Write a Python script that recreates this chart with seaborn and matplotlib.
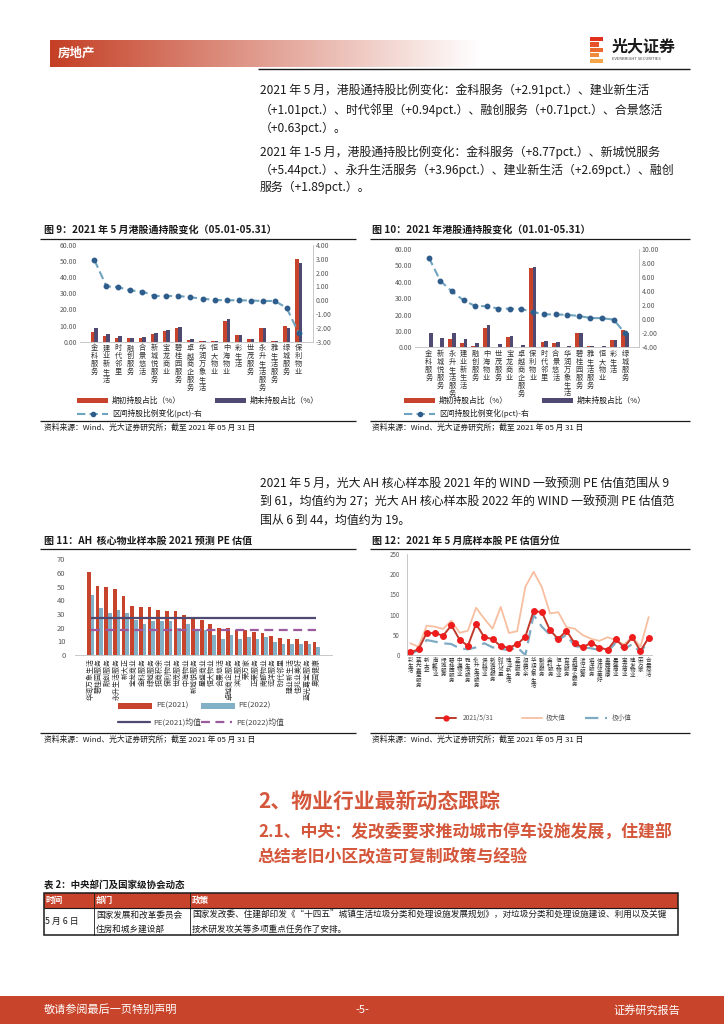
import matplotlib
matplotlib.use('Agg')
import matplotlib.pyplot as plt
import seaborn as sns
import numpy as np
import pandas as pd
from matplotlib.patches import Rectangle
from matplotlib.lines import Line2D

sns.set_theme(style='white')
plt.rcParams['font.family'] = ['Noto Sans CJK SC', 'DejaVu Sans']
plt.rcParams['axes.unicode_minus'] = False

RED = '#C8432B'
NAVY = '#4F4A72'
LBLUE = '#82B0C6'
LINE = '#6FA3BF'
DOT = '#2E5D8C'
GREY = '#595959'
HEAD = '#D4573B'

# ---- data: 图9 (05.01-05.31)
cats9 = ['金科服务', '建业新生活', '时代邻里', '融创服务', '合景悠活', '新城悦服务', '宝龙商业',
         '碧桂园服务', '卓越商企服务', '华润万象生活', '恒大物业', '中海物业', '彩生活', '世茂服务',
         '永升生活服务', '雅生活服务', '绿城服务', '保利物业']
start9 = [6.0, 3.5, 2.5, 2.0, 2.5, 5.0, 6.5, 8.5, 1.0, 0.2, 0.2, 13.0, 4.3, 1.5, 8.5, 0.5, 9.5, 51.5]
end9 = [8.5, 4.5, 3.5, 2.5, 3.2, 5.3, 7.0, 9.0, 1.5, 0.3, 0.3, 13.8, 4.3, 1.5, 8.5, 0.5, 8.6, 49.0]
chg9 = [2.91, 1.01, 0.94, 0.71, 0.63, 0.31, 0.31, 0.31, 0.21, 0.12, 0.02, 0.0, 0.0, -0.02,
        -0.05, -0.05, -0.54, -2.35]

# ---- data: 图10 (01.01-05.31)
cats10 = ['金科服务', '新城悦服务', '永升生活服务', '建业新生活', '融创服务', '中海物业', '世茂服务',
          '宝龙商业', '卓越商企服务', '保利物业', '时代邻里', '合景悠活', '华润万象生活', '碧桂园服务',
          '雅生活服务', '恒大物业', '彩生活', '绿城服务']
start10 = [0.0, 0.0, 5.0, 2.5, 0.7, 11.5, 0.0, 6.0, 0.0, 48.5, 3.0, 2.5, 0.0, 8.5, 0.8, 0.0, 4.3, 10.8]
end10 = [9.0, 5.5, 9.0, 5.0, 2.5, 13.8, 2.0, 7.0, 1.5, 49.2, 3.8, 3.2, 0.8, 9.0, 0.8, 0.5, 4.3, 8.8]
chg10 = [8.77, 5.44, 3.96, 2.69, 1.89, 1.85, 1.52, 1.50, 1.46, 1.03, 0.70, 0.68, 0.62, 0.46,
         0.17, 0.15, -0.06, -2.0]

# ---- data: 图11 (PE)
cats11 = ['华润万象生活', '碧桂园服务', '融创服务', '永升生活服务', '新大正', '宝龙商业', '金科服务',
          '绿城服务', '招商积余', '保利物业', '世茂服务', '中海物业', '新城悦服务', '星盛商业',
          '恒大物业', '合景悠活', '卓越商企服务', '滨江服务', '荣万家', '正荣服务', '南都物业',
          '远洋服务', '时代邻里', '建业新生活', '佳兆业美好', '蓝光嘉宝服务', '奥园健康']
pe21 = [61, 50.4, 49.6, 48.2, 43.3, 35.8, 35.0, 35.0, 33.0, 32.0, 32.0, 29.2, 26.8, 25.8, 22.6,
        20.0, 19.7, 18.5, 18.0, 16.5, 15.8, 14.1, 12.7, 11.4, 11.4, 10.2, 9.2]
pe22 = [44, 34.5, 31.0, 32.8, 30.6, 25.8, 22.6, 25.0, 24.6, 24.8, 20.0, 22.6, 18.3, 18.5, 14.8,
        12.0, 14.3, 12.0, 13.4, 12.0, 13.4, 9.7, 8.3, 8.3, 7.8, 8.3, 6.1]
pe21_mean = 26.8
pe22_mean = 18.5

# ---- data: 图12 (PE 分位)
cats12 = ['彩生活', '蓝光嘉宝服务', '新大正', '南都物业', '绿城服务', '碧桂园服务', '中海物业',
          '雅生活服务', '永升生活服务', '保利物业', '新城悦服务', '时代邻里', '建业新生活', '正荣服务',
          '招商积余', '华润万象生活', '融创服务', '金科服务', '恒大物业', '世茂服务', '卓越商企服务',
          '滨江服务', '远洋服务', '佳兆业美好', '奥园健康', '星盛商业', '宝龙商业', '建发物业',
          '荣万家', '合景悠活']
now12 = [6.6, 14, 55, 53.7, 48, 73.5, 38, 22.5, 77, 43.8, 39.7, 21.5, 18.2, 26.4, 45.5, 109, 106,
         61, 39.7, 60, 29, 19, 30.6, 18.2, 13.2, 38.8, 19, 43.8, 10, 43]
max12 = [29, 20.7, 72.7, 70, 64.5, 85, 55, 60, 117, 90, 65, 119, 54.5, 59, 169, 206, 168, 103,
         106, 69, 65, 49, 40, 35, 44, 37, 26, 45, 21, 94]
min12 = [2, 12.4, 37, 33, 29, 27, 16.5, 14, 19, 29, 19, 15, 12.4, 19, 0, 99, 70, 50, 37, 50, 22,
         19, 16.5, 12.4, 8, 30.6, 14, 27, 6, 37]

W, H = 724, 1024
fig = plt.figure(figsize=(7.24, 10.24), dpi=100)
page = fig.add_axes([0, 0, 1, 1])
page.set_xlim(0, W)
page.set_ylim(H, 0)
page.axis('off')


# pixel box -> figure rect
def box(x0, y0, x1, y1):
    return [x0 / W, 1 - y1 / H, (x1 - x0) / W, (y1 - y0) / H]


def txt(x, y, s, size=9, **kw):
    kw.setdefault('va', 'center')
    kw.setdefault('color', '#1a1a1a')
    page.text(x, y, s, fontsize=size, **kw)


def hline(x0, x1, y, lw=0.8, color='#1a1a1a'):
    page.plot([x0, x1], [y, y], color=color, lw=lw, solid_capstyle='butt')


def style_ticks(ax, size=5):
    ax.tick_params(axis='both', length=0, pad=2, labelsize=size, colors=GREY)
    ax.set_xlabel('')
    ax.set_ylabel('')


# ---- page header
grad = np.ones((1, 256, 4))
c0 = np.array(matplotlib.colors.to_rgb('#C43F25'))
t = np.linspace(0, 1, 256)
grad[0, :, :3] = c0[None, :] * (1 - t[:, None]) + t[:, None] * 1.0
page.imshow(grad, extent=(50, 480, 67, 40), aspect='auto', zorder=1)
page.set_xlim(0, W)
page.set_ylim(H, 0)
txt(58, 53, '房地产', 9, color='white', fontweight='bold', zorder=2)
for i, (w, c) in enumerate(zip([13, 9, 13, 9, 13], ['#E0301E', '#E8502A', '#EC6A2E', '#F08A3A', '#F5A64A'])):
    page.add_patch(Rectangle((590, 37 + i * 5.4), w, 4.2, color=c, lw=0))
txt(612, 46, '光大证券', 11.5, fontweight='bold')
txt(612, 58.5, 'EVERBRIGHT SECURITIES', 3, color='#444444')
hline(258, 690, 68.5, lw=1.0)

# ---- body text
body = [
    (90, '2021 年 5 月，港股通持股比例变化：金科服务（+2.91pct.）、建业新生活'),
    (110, '（+1.01pct.）、时代邻里（+0.94pct.）、融创服务（+0.71pct.）、合景悠活'),
    (128, '（+0.63pct.）。'),
    (152, '2021 年 1-5 月，港股通持股比例变化：金科服务（+8.77pct.）、新城悦服务'),
    (170, '（+5.44pct.）、永升生活服务（+3.96pct.）、建业新生活（+2.69pct.）、融创'),
    (187, '服务（+1.89pct.）。'),
    (484, '2021 年 5 月，光大 AH 核心样本股 2021 年的 WIND 一致预测 PE 估值范围从 9'),
    (502, '到 61，均值约为 27；光大 AH 核心样本股 2022 年的 WIND 一致预测 PE 估值范'),
    (520, '围从 6 到 44，均值约为 19。'),
]
for y, s in body:
    txt(260, y, s, 8.6)

# ---- figure titles / sources
txt(44, 230, '图 9：2021 年 5 月港股通持股变化（05.01-05.31）', 7.2, fontweight='bold')
txt(372, 230, '图 10：2021 年港股通持股变化（01.01-05.31）', 7.2, fontweight='bold')
txt(44, 541, '图 11：AH  核心物业样本股 2021 预测 PE 估值', 7.2, fontweight='bold')
txt(372, 541, '图 12：2021 年 5 月底样本股 PE 估值分位', 7.2, fontweight='bold')
for x0, x1 in [(40, 356), (370, 690)]:
    hline(x0, x1, 238.5, lw=0.9)
    hline(x0, x1, 548.5, lw=0.9)
    hline(x0, x1, 421, lw=0.9)
    hline(x0, x1, 733, lw=0.9)
src = '资料来源：Wind、光大证券研究所；截至 2021 年 05 月 31 日'
for x in [44, 372]:
    txt(x, 428, src, 5.6)
    txt(x, 740, src, 5.6)


# ---- 港股通 bar + line charts
def hk_chart(rect, cats, start, end, chg, rlim, rstep, leg_x, leg_x2):
    n = len(cats)
    ax = fig.add_axes(rect)
    ax.patch.set_alpha(0)
    df = pd.DataFrame({'cat': cats * 2, 'val': start + end,
                       'ser': ['期初'] * n + ['期末'] * n})
    sns.barplot(data=df, x='cat', y='val', hue='ser', palette=[RED, NAVY], width=0.64,
                saturation=1, linewidth=0, ax=ax, legend=False)
    ax.set_ylim(0, 60)
    ax.set_yticks(range(0, 61, 10))
    ax.set_yticklabels([f'{v:.2f}' for v in range(0, 61, 10)])
    ax.set_xticks(range(n))
    ax.set_xticklabels(['\n'.join(c) for c in cats], linespacing=0.98, fontsize=5.2, color='#333333')
    style_ticks(ax)
    ax.tick_params(axis='x', labelsize=5.2, colors='#333333')
    ax2 = ax.twinx()
    ax2.plot(np.arange(n), chg, ls='--', dashes=(4, 2), color=LINE, lw=1.5,
             marker='o', ms=3.2, mfc=DOT, mec=DOT, zorder=5)
    ax2.set_ylim(*rlim)
    ticks = np.arange(rlim[0], rlim[1] + 0.01, rstep)
    ax2.set_yticks(ticks)
    ax2.set_yticklabels([f'{v:.2f}' for v in ticks])
    style_ticks(ax2)
    for a in (ax, ax2):
        for s in a.spines.values():
            s.set_visible(False)
    ax.spines['bottom'].set_visible(True)
    ax.spines['bottom'].set_color('#BFBFBF')
    ax.spines['bottom'].set_linewidth(0.6)
    ax2.spines['right'].set_visible(True)
    ax2.spines['right'].set_color('#BFBFBF')
    ax2.spines['right'].set_linewidth(0.6)
    # legend
    page.add_patch(Rectangle((leg_x, 397.5), 31, 5, color=RED, lw=0))
    txt(leg_x + 35, 400.5, '期初持股占比（%）', 5.6)
    page.add_patch(Rectangle((leg_x2, 397.5), 31, 5, color=NAVY, lw=0))
    txt(leg_x2 + 35, 400.5, '期末持股占比（%）', 5.6)
    page.add_line(Line2D([leg_x, leg_x + 31], [413.5, 413.5], ls='--', dashes=(4, 2), color=LINE, lw=1.5))
    page.add_line(Line2D([leg_x + 15.5], [413.5], marker='o', ms=3, color=DOT))
    txt(leg_x + 35, 413.5, '区间持股比例变化(pct)-右', 5.6)


hk_chart(box(80, 245, 313, 341.7), cats9, start9, end9, chg9, (-3, 4), 1, 77, 215)
hk_chart(box(415, 249, 639, 347.3), cats10, start10, end10, chg10, (-4, 10), 2, 404, 542)

# ---- 图11 PE bars
ax = fig.add_axes(box(75.2, 559.3, 331.8, 655))
ax.patch.set_alpha(0)
n11 = len(cats11)
df11 = pd.DataFrame({'cat': cats11 * 2, 'val': pe21 + pe22,
                     'ser': ['PE(2021)'] * n11 + ['PE(2022)'] * n11})
sns.barplot(data=df11, x='cat', y='val', hue='ser', palette=[RED, LBLUE], width=0.86,
            saturation=1, linewidth=0, ax=ax, legend=False)
ax.hlines(pe21_mean, 0, n11 - 1, color=NAVY, lw=1.6, zorder=4)
ax.hlines(pe22_mean, 0, n11 - 1, color='#9A5A9C', lw=1.6, linestyles=(0, (4, 2.5)), zorder=4)
ax.set_ylim(0, 70)
ax.set_yticks(range(0, 71, 10))
ax.set_xticks(range(n11))
ax.set_xticklabels(cats11, rotation=90, fontsize=5, color='#333333', va='top', ha='center')
style_ticks(ax, 5.5)
ax.tick_params(axis='x', labelsize=5, colors='#333333', pad=2)
ax.tick_params(axis='y', pad=7)
for s in ax.spines.values():
    s.set_visible(False)
ax.spines['bottom'].set_visible(True)
ax.spines['bottom'].set_color('#BFBFBF')
ax.spines['bottom'].set_linewidth(0.6)
page.add_patch(Rectangle((118, 702.5), 34, 6.5, color=RED, lw=0))
txt(156, 705.7, 'PE(2021)', 5.6, color='#444444')
page.add_patch(Rectangle((201, 702.5), 34, 6.5, color=LBLUE, lw=0))
txt(238, 705.7, 'PE(2022)', 5.6, color='#444444')
page.add_line(Line2D([118, 150], [722, 722], color=NAVY, lw=1.6))
txt(153, 722, 'PE(2021)均值', 5.6, color='#444444')
page.add_line(Line2D([201, 232], [722, 722], color='#9A5A9C', lw=1.6, ls=(0, (4, 2.5))))
txt(236, 722, 'PE(2022)均值', 5.6, color='#444444')

# ---- 图12 PE 分位 lines
ax = fig.add_axes(box(407, 554, 652, 655))
ax.patch.set_alpha(0)
x12 = np.arange(len(cats12))
sns.lineplot(x=x12, y=max12, color='#F7BFA0', lw=1.3, ax=ax)
sns.lineplot(x=x12, y=min12, color='#7FAAC4', lw=1.6, ax=ax).lines[-1].set_dashes((6, 3))
sns.lineplot(x=x12, y=now12, color='#C0392B', lw=1.4, marker='o', ms=4.2, mfc='#EE1C1C',
             mec='#EE1C1C', ax=ax)
ax.set_xlim(-0.4, len(cats12) - 0.6)
ax.set_ylim(0, 250)
ax.set_yticks(range(0, 251, 50))
ax.set_xticks(x12)
ax.set_xticklabels(['\n'.join(c) for c in cats12], fontsize=4, linespacing=0.95, color='#333333')
style_ticks(ax, 4.5)
ax.tick_params(axis='x', labelsize=4, colors='#333333')
ax.tick_params(axis='y', pad=5)
for s in ax.spines.values():
    s.set_visible(False)
for side in ('left', 'bottom'):
    ax.spines[side].set_visible(True)
    ax.spines[side].set_color('#BFBFBF')
    ax.spines[side].set_linewidth(0.6)
page.add_line(Line2D([436, 456], [717.7, 717.7], color='#C0392B', lw=1.4))
page.add_line(Line2D([446], [717.7], marker='o', ms=3.5, mfc='#EE1C1C', mec='#EE1C1C'))
txt(463, 717.7, '2021/5/31', 4.8, color='#555555')
page.add_line(Line2D([522, 542], [717.7, 717.7], color='#F7BFA0', lw=1.3))
txt(546, 717.7, '极大值', 4.8, color='#555555')
page.add_line(Line2D([585, 607], [717.7, 717.7], color='#7FAAC4', lw=1.6, dashes=(6, 3)))
txt(612, 717.7, '极小值', 4.8, color='#555555')

# ---- section headings
txt(258, 801, '2、物业行业最新动态跟踪', 15, color=HEAD, fontweight='bold')
txt(258, 833, '2.1、中央：发改委要求推动城市停车设施发展，住建部', 12.2, color=HEAD, fontweight='bold')
txt(258, 857, '总结老旧小区改造可复制政策与经验', 12.2, color=HEAD, fontweight='bold')

# ---- table
txt(44, 885, '表 2：中央部门及国家级协会动态', 6.8, fontweight='bold')
page.add_patch(Rectangle((44, 893), 634, 15, color=RED, lw=0))
page.add_patch(Rectangle((44, 893), 634, 42, fill=False, ec='#1a1a1a', lw=1.1))
hline(44, 678, 908, lw=0.8)
for xc in [94, 190]:
    page.plot([xc, xc], [893, 935], color='#1a1a1a', lw=0.6)
for x, s in [(45, '时间'), (96, '部门'), (192, '政策')]:
    txt(x, 900.5, s, 6.2, color='white', fontweight='bold')
txt(45, 921, '5 月 6 日', 6.4)
txt(96, 915, '国家发展和改革委员会', 6.2)
txt(96, 929, '住房和城乡建设部', 6.2)
txt(192, 915, '国家发改委、住建部印发《“十四五”城镇生活垃圾分类和处理设施发展规划》，对垃圾分类和处理设施建设、利用以及关键', 6.2)
txt(192, 929, '技术研发攻关等多项重点任务作了安排。', 6.2)

# ---- footer
page.add_patch(Rectangle((0, 996), W, 28, color='#C8442A', lw=0))
txt(44, 1010, '敬请参阅最后一页特别声明', 8, color='white')
txt(362, 1010, '-5-', 8, color='white', ha='center')
txt(680, 1010, '证券研究报告', 8, color='white', ha='right')

fig.savefig('out.png', dpi=100)
